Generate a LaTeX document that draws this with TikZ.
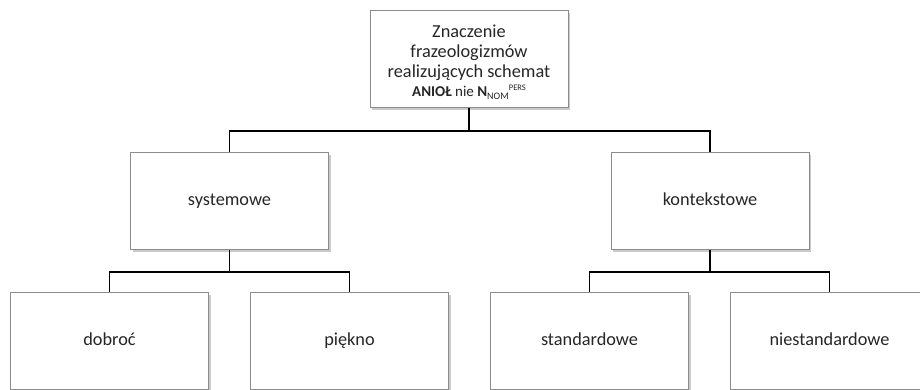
\documentclass[tikz,border=0pt]{standalone}
\usepackage{fontspec}
\setmainfont{Carlito}
\usetikzlibrary{shadows}
\tikzset{
  box/.style={draw=black!45, line width=0.9pt, fill=white, rectangle,
    minimum width=198pt, minimum height=97pt, inner sep=2pt, align=center,
    font=\fontsize{18.3}{20}\selectfont, text=black!85,
    drop shadow={shadow xshift=2pt, shadow yshift=-2pt, opacity=0.35, fill=black!60}},
  onebox/.style={box, text height=13pt, text depth=4pt},
  link/.style={draw=black, line width=1.4pt}
}
\begin{document}
\begin{tikzpicture}[x=1pt,y=-1pt]
\useasboundingbox (0,0) rectangle (920,389);
\clip (0,0) rectangle (920,389);
\node[box] (top) at (469,59) {\rule{0pt}{18.5pt}Znaczenie\\frazeologizmów\\realizujących schemat\\[-1pt]
  {\fontsize{15}{16}\selectfont\textbf{ANIOŁ} nie \textbf{N}\raisebox{-3pt}{\fontsize{10}{10}\selectfont NOM}\raisebox{6pt}{\fontsize{8.5}{9}\selectfont PERS}}};
\node[onebox] (sys) at (229.5,201) {systemowe};
\node[onebox] (kon) at (710,201) {kontekstowe};
\node[onebox] (dob) at (109.5,341) {dobroć};
\node[onebox] (pie) at (349.5,341) {piękno};
\node[onebox] (sta) at (589.5,341) {standardowe};
\node[onebox] (nie) at (829.5,341) {niestandardowe};
\draw[link] (top.south) -- ++(0,23) -| (sys.north);
\draw[link] (top.south) -- ++(0,23) -| (kon.north);
\draw[link] (sys.south) -- ++(0,22) -| (dob.north);
\draw[link] (sys.south) -- ++(0,22) -| (pie.north);
\draw[link] (kon.south) -- ++(0,22) -| (sta.north);
\draw[link] (kon.south) -- ++(0,22) -| (nie.north);
\end{tikzpicture}
\end{document}
